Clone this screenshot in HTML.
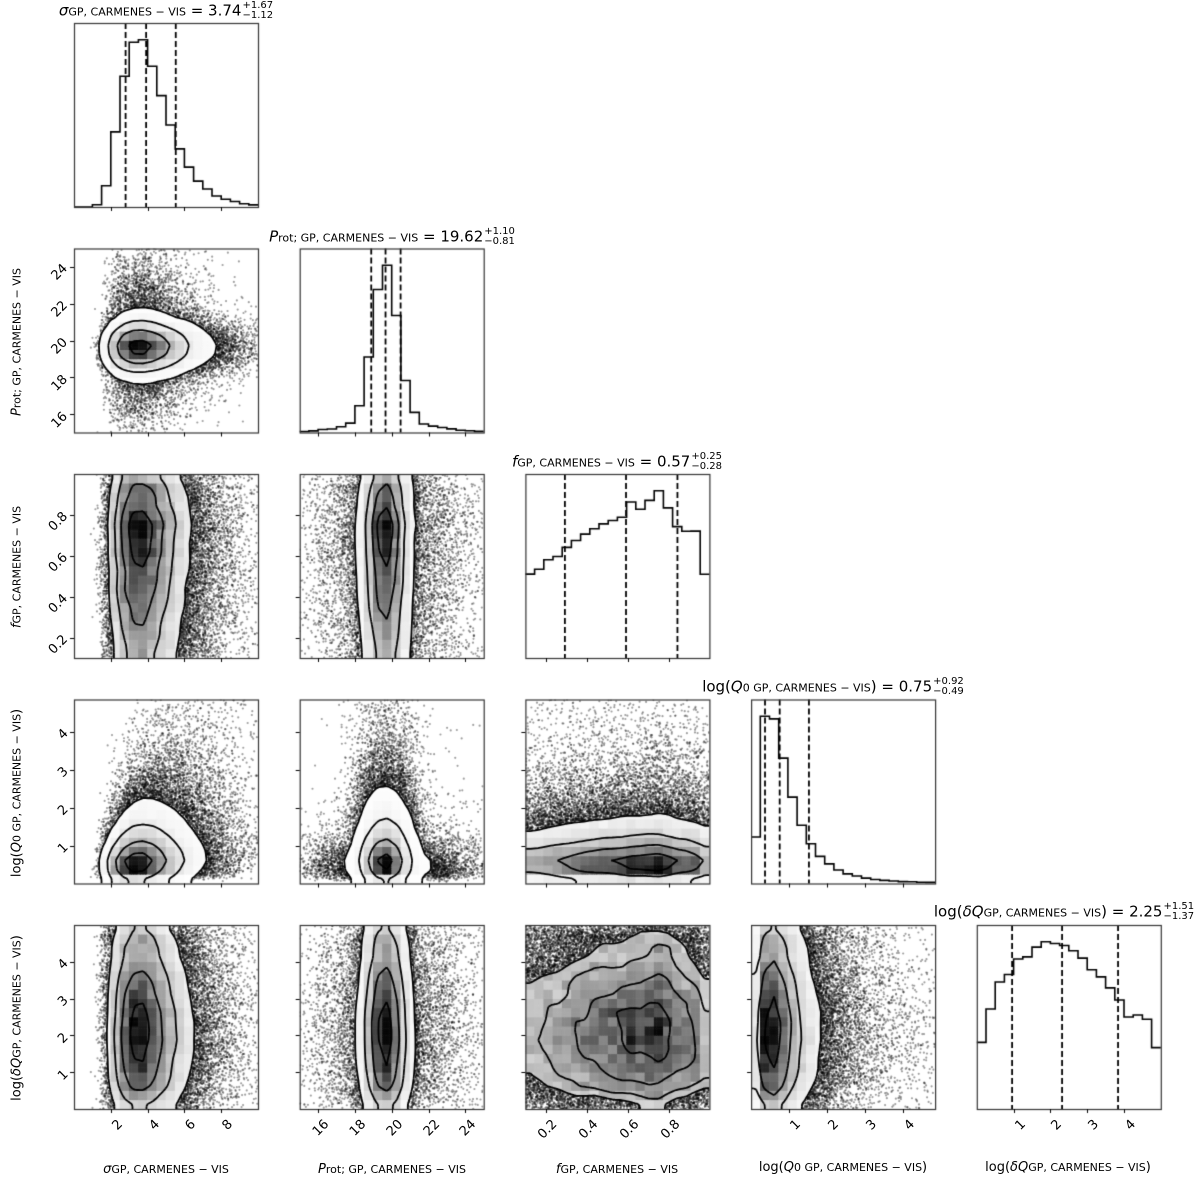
<!DOCTYPE html>
<html><head><meta charset="utf-8">
<style>
html,body{margin:0;padding:0;background:#fff;}
#wrap{position:relative;width:1200px;height:1183px;overflow:hidden;font-family:"DejaVu Sans","Liberation Sans",sans-serif;color:#000;}
canvas{position:absolute;left:0;top:0;}
.t{position:absolute;white-space:nowrap;font-size:15px;transform:translateX(-50%);}
.ss{display:inline-block;vertical-align:middle;line-height:10px;font-size:10px;text-align:left;margin-left:1px}
.sub{font-size:11px;}
.yl{position:absolute;white-space:nowrap;font-size:13px;transform:translate(-50%,-50%) rotate(-90deg);}
.xl{position:absolute;white-space:nowrap;font-size:13px;transform:translateX(-50%);}
.xt,.yt{position:absolute;font-size:13px;white-space:nowrap;}
</style></head><body>
<div id="wrap">
<canvas id="cv" width="1200" height="1183"></canvas>

<div class="t" style="left:166px;top:1px"><i>σ</i><span class="sub">GP, CARMENES − VIS</span> = 3.74<span class="ss">+1.67<br>−1.12</span></div>
<div class="t" style="left:392px;top:227px"><i>P</i><span class="sub">rot; GP, CARMENES − VIS</span> = 19.62<span class="ss">+1.10<br>−0.81</span></div>
<div class="t" style="left:617px;top:452px"><i>f</i><span class="sub">GP, CARMENES − VIS</span> = 0.57<span class="ss">+0.25<br>−0.28</span></div>
<div class="t" style="left:833px;top:677px">log(<i>Q</i><span class="sub">0 GP, CARMENES − VIS</span>) = 0.75<span class="ss">+0.92<br>−0.49</span></div>
<div class="t" style="left:1064px;top:902px">log(<i>δQ</i><span class="sub">GP, CARMENES − VIS</span>) = 2.25<span class="ss">+1.51<br>−1.37</span></div>

<div class="yl" style="left:17px;top:342px"><i>P</i><span class="sub">rot; GP, CARMENES − VIS</span></div>
<div class="yl" style="left:17px;top:567px"><i>f</i><span class="sub">GP, CARMENES − VIS</span></div>
<div class="yl" style="left:17px;top:793px">log(<i>Q</i><span class="sub">0 GP, CARMENES − VIS</span>)</div>
<div class="yl" style="left:17px;top:1018px">log(<i>δQ</i><span class="sub">GP, CARMENES − VIS</span>)</div>

<div class="xl" style="left:166px;top:1162px"><i>σ</i><span class="sub">GP, CARMENES − VIS</span></div>
<div class="xl" style="left:392px;top:1162px"><i>P</i><span class="sub">rot; GP, CARMENES − VIS</span></div>
<div class="xl" style="left:617px;top:1162px"><i>f</i><span class="sub">GP, CARMENES − VIS</span></div>
<div class="xl" style="left:843px;top:1160px">log(<i>Q</i><span class="sub">0 GP, CARMENES − VIS</span>)</div>
<div class="xl" style="left:1068px;top:1160px">log(<i>δQ</i><span class="sub">GP, CARMENES − VIS</span>)</div>

<div class="xt c0">2</div><div class="xt c0">4</div><div class="xt c0">6</div><div class="xt c0">8</div>
<div class="xt c1">16</div><div class="xt c1">18</div><div class="xt c1">20</div><div class="xt c1">22</div><div class="xt c1">24</div>
<div class="xt c2">0.2</div><div class="xt c2">0.4</div><div class="xt c2">0.6</div><div class="xt c2">0.8</div>
<div class="xt c3">1</div><div class="xt c3">2</div><div class="xt c3">3</div><div class="xt c3">4</div>
<div class="xt c4">1</div><div class="xt c4">2</div><div class="xt c4">3</div><div class="xt c4">4</div>

<div class="yt r1">16</div><div class="yt r1">18</div><div class="yt r1">20</div><div class="yt r1">22</div><div class="yt r1">24</div>
<div class="yt r2">0.2</div><div class="yt r2">0.4</div><div class="yt r2">0.6</div><div class="yt r2">0.8</div>
<div class="yt r3">1</div><div class="yt r3">2</div><div class="yt r3">3</div><div class="yt r3">4</div>
<div class="yt r4">1</div><div class="yt r4">2</div><div class="yt r4">3</div><div class="yt r4">4</div>
</div>
<script>
(function(){
var R=[[0,10],[15,25],[0.1,1.0],[0,4.85],[0,5]];
var TK=[[2,4,6,8],[16,18,20,22,24],[0.2,0.4,0.6,0.8],[1,2,3,4],[1,2,3,4]];
var W=184;
function PX(c){return 74+225.7*c;}
function PY(r){return 23+225.5*r;}
var st=987654321;
function rnd(){st|=0;st=st+0x6D2B79F5|0;var t=Math.imul(st^st>>>15,1|st);t=t+Math.imul(t^t>>>7,61|t)^t;return((t^t>>>14)>>>0)/4294967296;}
function gauss(){var u=rnd()||1e-9,v=rnd();return Math.sqrt(-2*Math.log(u))*Math.cos(2*Math.PI*v);}
function rej(pdf,lo,hi,m){while(true){var x=lo+(hi-lo)*rnd();if(rnd()*m<pdf(x))return x;}}
var N=40000,S=[];
function fpdf(x){if(x>0.95)return 0.47;if(x>0.82)return 0.7;if(x>0.75)return 0.9-(x-0.75)*1.5;return 0.45+0.47*(x-0.1)/0.65;}
function dpdf(x){var v=0.62+0.38*Math.exp(-Math.pow((x-2.1)/1.4,2));if(x<0.25)v*=0.6;else if(x<0.5)v*=0.85;if(x>4.75)v*=0.55;else if(x>3.9)v*=0.85;return v;}
for(var k=0;k<N;k++){
 var q=Math.exp(Math.log(0.75)+0.72*gauss());
 if(q>4.85)q=4.85*rnd();
 var sg=Math.exp(Math.log(3.5)+0.12*q+0.33*gauss());
 var p;
 if(rnd()<0.35*Math.exp(-q/0.7)+0.05) p=20+2.3*gauss(); else p=19.45+(0.55+0.1*q)*gauss()+0.25*Math.abs(gauss());
 var f=rej(fpdf,0.1,1.0,1.0);
 var d=rej(dpdf,0,5,1.0);
 S.push([sg,p,f,q,d]);
}
var cv=document.getElementById('cv'),g=cv.getContext('2d');
function fx(c,v){return PX(c)+(v-R[c][0])/(R[c][1]-R[c][0])*W;}
function fy(r,v){return PY(r)+W-(v-R[r][0])/(R[r][1]-R[r][0])*W;}
function quant(arr,qq){var a=arr.slice().sort(function(a,b){return a-b});return a[Math.floor(qq*(a.length-1))];}
var NB=20;
for(var r=1;r<5;r++)for(var c=0;c<r;c++){
 var x0=PX(c),y0=PY(r);
 var H=[];for(var i=0;i<NB;i++){H.push(new Array(NB).fill(0));}
 for(var k=0;k<N;k++){var u=(S[k][c]-R[c][0])/(R[c][1]-R[c][0]),v=(S[k][r]-R[r][0])/(R[r][1]-R[r][0]);
  if(u<0||u>=1||v<0||v>=1)continue;H[Math.floor(u*NB)][Math.floor(v*NB)]++;}
 var Hs=[];for(var i=0;i<NB;i++){Hs.push([]);for(var j=0;j<NB;j++){var s=0,w=0;
  for(var a=-1;a<=1;a++)for(var b=-1;b<=1;b++){var ii=i+a,jj=j+b;if(ii<0||jj<0||ii>=NB||jj>=NB)continue;var ww=(a==0?2:1)*(b==0?2:1);s+=H[ii][jj]*ww;w+=ww;}
  Hs[i].push(s/w);}}
 var flat=[];for(var i=0;i<NB;i++)for(var j=0;j<NB;j++)flat.push(Hs[i][j]);
 flat.sort(function(a,b){return b-a});var tot=flat.reduce(function(a,b){return a+b},0);
 var lev=[0.118,0.393,0.675,0.865].map(function(l){var cs=0;for(var t=0;t<flat.length;t++){cs+=flat[t];if(cs>=l*tot)return flat[t];}return flat[flat.length-1];});
 var V0=lev[3];
 var Hm=0;for(var i=0;i<NB;i++)for(var j=0;j<NB;j++)Hm=Math.max(Hm,H[i][j]);
 function dens(u,v){var a=u*NB-0.5,b=v*NB-0.5;a=Math.max(0,Math.min(NB-1.001,a));b=Math.max(0,Math.min(NB-1.001,b));
  var i=Math.floor(a),j=Math.floor(b),da=a-i,db=b-j;
  return Hs[i][j]*(1-da)*(1-db)+Hs[i+1][j]*da*(1-db)+Hs[i][j+1]*(1-da)*db+Hs[i+1][j+1]*da*db;}
 g.save();g.beginPath();g.rect(x0,y0,W,W);g.clip();
 g.fillStyle='rgba(0,0,0,0.38)';
 for(var k=0;k<N;k++){var u=(S[k][c]-R[c][0])/(R[c][1]-R[c][0]),v=(S[k][r]-R[r][0])/(R[r][1]-R[r][0]);
  if(u<0||u>1||v<0||v>1)continue;if(dens(u,v)>=V0)continue;
  g.beginPath();g.arc(x0+u*W,y0+W-v*W,1.1,0,6.283);g.fill();}
 var cw=W/NB;
 for(var i=0;i<NB;i++)for(var j=0;j<NB;j++){
  var sub=4;for(var a=0;a<sub;a++)for(var b=0;b<sub;b++){
   var uu=(i+(a+0.5)/sub)/NB,vv=(j+(b+0.5)/sub)/NB;
   if(dens(uu,vv)<V0)continue;
   var val=Math.min(1,H[i][j]/Hm);var gr=Math.round(255*(1-0.97*Math.pow(val,1.6)));
   g.fillStyle='rgb('+gr+','+gr+','+gr+')';
   g.fillRect(x0+i*cw+a*cw/sub-0.3,y0+W-(j+1)*cw+(sub-1-b)*cw/sub-0.3,cw/sub+0.6,cw/sub+0.6);}
 }
 var M=72;var F=[];for(var i=0;i<=M;i++){F.push([]);for(var j=0;j<=M;j++)F[i].push(dens(i/M,j/M));}
 g.strokeStyle='#000';g.lineWidth=1.8;g.lineJoin='round';
 lev.forEach(function(L){
  g.beginPath();
  for(var i=0;i<M;i++)for(var j=0;j<M;j++){
   var P=[[i,j],[i+1,j],[i+1,j+1],[i,j+1]],Vv=[F[i][j],F[i+1][j],F[i+1][j+1],F[i][j+1]];
   var pts=[];
   for(var s=0;s<4;s++){var s2=(s+1)%4;if((Vv[s]>=L)!=(Vv[s2]>=L)){var t=(L-Vv[s])/(Vv[s2]-Vv[s]);pts.push([P[s][0]+(P[s2][0]-P[s][0])*t,P[s][1]+(P[s2][1]-P[s][1])*t]);}}
   for(var s=0;s+1<pts.length;s+=2){
    g.moveTo(x0+pts[s][0]/M*W,y0+W-pts[s][1]/M*W);g.lineTo(x0+pts[s+1][0]/M*W,y0+W-pts[s+1][1]/M*W);}
  }
  g.stroke();
 });
 g.restore();
}
for(var c=0;c<5;c++){
 var x0=PX(c),y0=PY(c);var cnt=new Array(NB).fill(0),vals=[];
 for(var k=0;k<N;k++){var u=(S[k][c]-R[c][0])/(R[c][1]-R[c][0]);vals.push(S[k][c]);if(u<0||u>=1)continue;cnt[Math.floor(u*NB)]++;}
 var mx=Math.max.apply(null,cnt)*1.1;
 g.strokeStyle='#000';g.lineWidth=1.6;g.beginPath();
 for(var i=0;i<NB;i++){var y=y0+W-cnt[i]/mx*W;if(i==0)g.moveTo(x0,y);else g.lineTo(x0+i*W/NB,y);g.lineTo(x0+(i+1)*W/NB,y);}
 g.stroke();
 g.setLineDash([6,3]);g.lineWidth=1.8;
 [0.16,0.5,0.84].forEach(function(qq){var xv=fx(c,quant(vals,qq));g.beginPath();g.moveTo(xv,y0);g.lineTo(xv,y0+W);g.stroke();});
 g.setLineDash([]);
}
g.strokeStyle='#333';
for(var r=0;r<5;r++)for(var c=0;c<=r;c++){
 var x0=PX(c),y0=PY(r);g.lineWidth=1.2;g.strokeRect(x0+0.5,y0+0.5,W,W);
 g.lineWidth=1;g.strokeStyle='#000';g.beginPath();
 TK[c].forEach(function(t){var x=Math.round(fx(c,t))+0.5;g.moveTo(x,y0+W);g.lineTo(x,y0+W+4);});
 if(c!=r)TK[r].forEach(function(t){var y=Math.round(fy(r,t))+0.5;g.moveTo(x0,y);g.lineTo(x0-4,y);});
 g.stroke();g.strokeStyle='#333';
}
document.querySelectorAll('.xt').forEach(function(el){
 var c=+el.className.match(/c(\d)/)[1];var v=parseFloat(el.textContent);
 var x=fx(c,v);var y=PY(4)+W+8;var w=el.offsetWidth;
 el.style.left=(x-w+4)+'px';el.style.top=(y)+'px';el.style.transformOrigin='100% 0%';el.style.transform='rotate(-45deg)';
});
document.querySelectorAll('.yt').forEach(function(el){
 var r=+el.className.match(/r(\d)/)[1];var v=parseFloat(el.textContent);
 var y=fy(r,v);var w=el.offsetWidth,h=el.offsetHeight;
 el.style.left=(PX(0)-8-w)+'px';el.style.top=(y-h/2)+'px';el.style.transformOrigin='100% 50%';el.style.transform='rotate(-45deg)';
});
})();
</script>
</body></html>
